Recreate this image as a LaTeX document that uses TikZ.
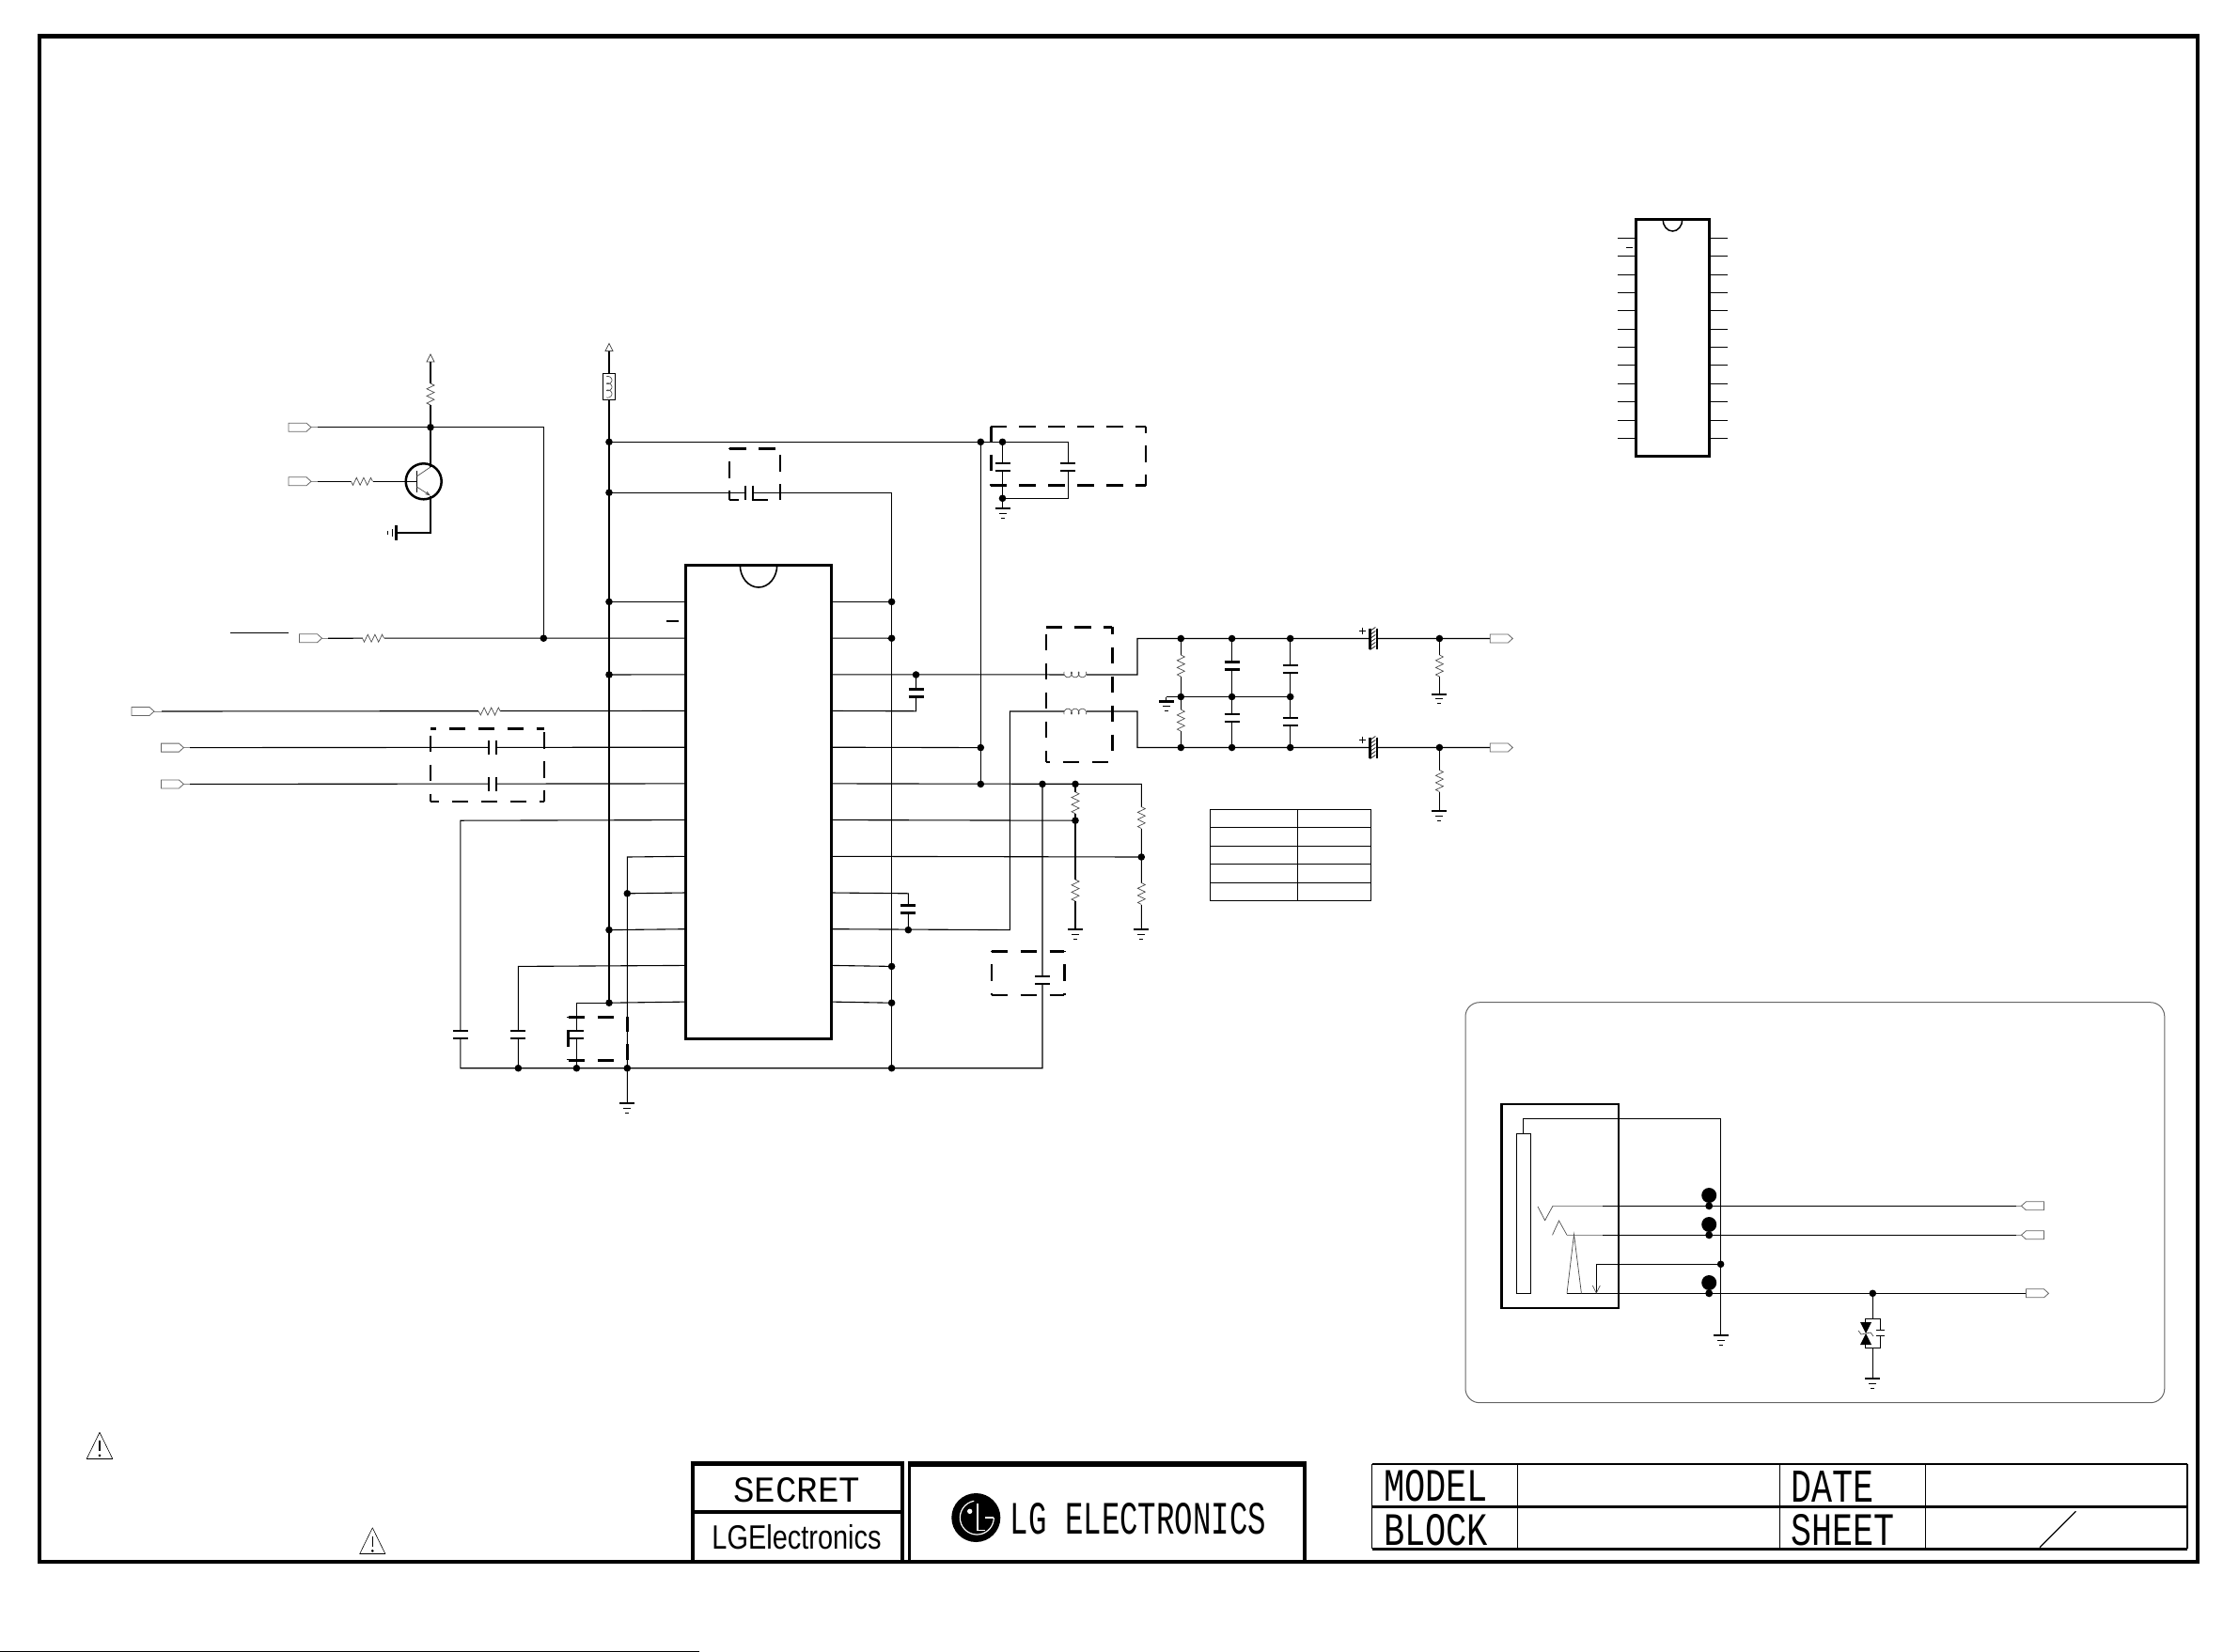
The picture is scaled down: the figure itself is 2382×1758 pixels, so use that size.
\documentclass[tikz,border=0pt]{standalone}
\usepackage{fontspec}
\usepackage{graphicx}
\usetikzlibrary{arrows.meta}
\setmainfont{Liberation Sans}
\newfontfamily\stroke{Liberation Mono}
\tikzset{
  wire/.style={line width=1.1pt,line join=miter},
  part/.style={line width=0.7pt,draw=black!70},
  thinp/.style={line width=0.8pt,draw=black!60},
  stub/.style={line width=0.8pt,draw=black!45},
  plate/.style={line width=2.2pt},
  dashb/.style={line width=2.4pt,dash pattern=on 17.5pt off 13.5pt},
  fit text/.style={inner sep=0pt,outer sep=0pt},
  resv/.pic={\fill[white] (-5,-11.5) rectangle (5,11.5);
    \draw[part] (0,-11.5)--(4,-9.5)--(-4,-5.7)--(4,-1.9)--(-4,1.9)--(4,5.7)--(-4,9.5)--(0,11.5);},
  resh/.pic={\fill[white] (-11.5,-5) rectangle (11.5,5);
    \draw[part] (-11.5,0)--(-9.5,4)--(-5.7,-4)--(-1.9,4)--(1.9,-4)--(5.7,4)--(9.5,-4)--(11.5,0);},
  caph/.pic={\fill[white] (-8,-4) rectangle (8,4);
    \draw[plate] (-8,-4)--(8,-4) (-8,4)--(8,4);},
  capv/.pic={\fill[white] (-4,-7.5) rectangle (4,7.5);
    \draw[plate] (-4,-7.5)--(-4,7.5) (4,-7.5)--(4,7.5);},
  gndsym/.pic={\draw[plate] (-8,0)--(8,0);
    \draw[line width=.9pt] (-4,5)--(4,5) (-2,10)--(2,10);},
  pwr/.pic={\draw[part] (-4,0)--(0,-8)--(4,0)--cycle;},
  portr/.pic={\draw[thinp,fill=white] (0,-4.5)--(19,-4.5)--(24,0)--(19,4.5)--(0,4.5)--cycle;},
  portl/.pic={\draw[thinp,fill=white] (0,-4.5)--(-19,-4.5)--(-24,0)--(-19,4.5)--(0,4.5)--cycle;},
  indh/.pic={\fill[white] (-11.8,-4) rectangle (11.8,4);
    \draw[part] plot[domain=0:1080,samples=70,smooth] ({-11.5+\x/46.96-2*sin(\x)},{-3+2.9*(1-cos(\x))});},
  warn/.pic={\draw[line width=.6pt] (0,0)--(-13.7,28);\draw[line width=.6pt] (0,0)--(13.7,28);
    \draw[line width=1pt] (-13.7,28)--(13.7,28);
    \draw[line width=1.6pt] (0,9)--(0,20);\fill (0,24.5) circle (1.5);},
  polar/.pic={\draw[plate] (-3.8,-11)--(-3.8,11) (3.6,-11)--(3.6,11);
    \fill[white] (-2.6,-11) rectangle (2.4,11);
    \draw[plate] (3.6,-11)--(3.6,11);
    \foreach \h in {-10,-6,-2,2,6,10}{\draw[line width=.7pt] (-3.8,\h+2)--(2,\h-2);}
    \draw[line width=.8pt] (-15.4,-8.5)--(-8.4,-8.5) (-11.9,-12)--(-11.9,-5);},
}
\newcommand\dbox[8]{%
  \draw[dashb,dash phase=#5pt] (#1,#2)--(#3,#2);
  \draw[dashb,dash phase=#6pt] (#1,#2)--(#1,#4);
  \draw[dashb,dash phase=#7pt] (#1,#4)--(#3,#4);
  \draw[dashb,dash phase=#8pt] (#3,#2)--(#3,#4);}
\begin{document}
\begin{tikzpicture}[x=1pt,y=-1pt]
\useasboundingbox (0,0) rectangle (2382,1758);
% frame
\draw[line width=4pt] (41.7,38.3) rectangle (2338,1662);
\draw[line width=5pt] (39.7,38.3)--(2340,38.3);
\draw[line width=1.3pt] (0,1757.3)--(744,1757.3);

% ---- coordinates
\foreach \i in {1,...,12}{\pgfmathsetmacro\yy{640.4+38.7*(\i-1)}
  \coordinate (L\i) at (729.5,\yy); \coordinate (R\i) at (884.5,\yy);}
\coordinate (jT) at (458,454.7);
\coordinate (jH) at (578.3,679.2);
\coordinate (cH) at (578.3,454.7);
\coordinate (tPwr) at (458,385);
\coordinate (rPwr) at (648,373.5);
\coordinate (p1) at (338,454.7);
\coordinate (p2) at (338,512.3);
\coordinate (p3) at (349,679.2);
\coordinate (p4) at (172,757);
\coordinate (p5) at (202,795.6);
\coordinate (p6) at (202,834.4);
\coordinate (qB) at (443.3,512.3);
\coordinate (qC) at (458,497);
\coordinate (qE) at (458,527.5);
\coordinate (qG1) at (458,567);
\coordinate (qG) at (421.7,567);
\coordinate (jA1) at (648,470.3);
\coordinate (jA2) at (648,524.2);
\coordinate (jA3) at (648,640.4);
\coordinate (jA4) at (648,718);
\coordinate (jA5) at (648,989.6);
\coordinate (jA6) at (648,1067.2);
\coordinate (jB1) at (1043.3,470.3);
\coordinate (jB2) at (1066.5,470.3);
\coordinate (cB) at (1136.3,470.3);
\coordinate (cB2) at (1136.3,530.3);
\coordinate (jB3) at (1066.5,530.3);
\coordinate (gB) at (1066.5,541);
\coordinate (jB4) at (1043.3,795.6);
\coordinate (jB5) at (1043.3,834.4);
\coordinate (cD) at (948.6,524.2);
\coordinate (jD1) at (948.6,640.4);
\coordinate (jD2) at (948.6,679.2);
\coordinate (jD3) at (948.6,1028.4);
\coordinate (jD4) at (948.6,1067.2);
\coordinate (jD5) at (948.6,1136.7);
\coordinate (jC1) at (974.5,718);
\coordinate (cC) at (974.5,756.8);
\coordinate (jE1) at (1109,834.4);
\coordinate (jE2) at (1144,834.4);
\coordinate (cE) at (1214.3,834.4);
\coordinate (jE3) at (1144,873.2);
\coordinate (jE4) at (1214.3,912);
\coordinate (gE2) at (1144,989);
\coordinate (gE) at (1214.3,989);
\coordinate (cE1) at (1109,1136.7);
\coordinate (cF) at (966.3,950.8);
\coordinate (jF1) at (966.3,989.6);
\coordinate (cF2) at (1074.3,989.6);
\coordinate (cF3) at (1074.3,757);
\coordinate (cF4) at (1210,757);
\coordinate (cF5) at (1210,795.5);
\coordinate (cC2) at (1210,718);
\coordinate (cC3) at (1210,679.5);
\coordinate (jN1) at (1256.3,679.5);
\coordinate (jN2) at (1310.6,679.5);
\coordinate (jN3) at (1372.7,679.5);
\coordinate (jN4) at (1531.4,679.5);
\coordinate (pO1) at (1585.3,679.5);
\coordinate (jM1) at (1256.3,741.5);
\coordinate (jM2) at (1310.6,741.5);
\coordinate (jM3) at (1372.7,741.5);
\coordinate (cM) at (1240.8,741.5);
\coordinate (gM) at (1240.8,746.5);
\coordinate (jS1) at (1256.3,795.5);
\coordinate (jS2) at (1310.6,795.5);
\coordinate (jS3) at (1372.7,795.5);
\coordinate (jS4) at (1531.4,795.5);
\coordinate (pO2) at (1585.3,795.5);
\coordinate (gN) at (1531.4,738.8);
\coordinate (gS) at (1531.4,863.2);
\coordinate (cL7) at (489.8,873.2);
\coordinate (cBL) at (489.8,1136.7);
\coordinate (cL11) at (551.4,1028.4);
\coordinate (jBt1) at (551.4,1136.7);
\coordinate (cL12) at (613.4,1067.2);
\coordinate (jBt2) at (613.4,1136.7);
\coordinate (cL8) at (667.3,912);
\coordinate (jG1) at (667.3,950.8);
\coordinate (jG2) at (667.3,1136.7);
\coordinate (gG) at (667.3,1174);

% ---- wires
\begin{scope}[wire]
\draw (p1)--(jT)--(cH)--(jH);
\draw (tPwr)--(jT)--(qC);
\draw (qE)--(qG1)--(qG);
\draw (p2)--(qB);
\draw (p3)--(L2);
\draw (p4)--(L4);
\draw (p5)--(L5);
\draw (p6)--(L6);
\draw (rPwr)--(jA6);
\draw (jA3)--(L1); \draw (jA4)--(L3); \draw (jA5)--(L10); \draw (jA6)--(L12);
\draw (jA6)--(cL12)--(jBt2);
\draw (L7)--(cL7)--(cBL)--(cE1)--(jE1);
\draw (L11)--(cL11)--(jBt1);
\draw (L8)--(cL8)--(gG);
\draw (L9)--(jG1);
\draw (jA1)--(cB)--(cB2)--(jB3)--(jB2);
\draw (jB3)--(gB);
\draw (jA2)--(cD)--(jD5);
\draw (jB1)--(jB5);
\draw (R1)--(jD1); \draw (R2)--(jD2); \draw (R11)--(jD3); \draw (R12)--(jD4);
\draw (R3)--(cC2)--(cC3)--(pO1);
\draw (R4)--(cC)--(jC1);
\draw (R5)--(jB4);
\draw (R6)--(cE)--(gE);
\draw (jE2)--(gE2);
\draw (R7)--(jE3);
\draw (R8)--(jE4);
\draw (R9)--(cF)--(jF1);
\draw (R10)--(cF2)--(cF3)--(cF4)--(cF5)--(pO2);
\draw (cM)--(jM3); \draw (cM)--(gM);
\draw (jN1)--(jS1); \draw (jN2)--(jS2); \draw (jN3)--(jS3);
\draw (jN4)--(gN); \draw (jS4)--(gS);
\end{scope}
\draw[stub] (331,454.7)--(p1);
\draw[stub] (331,512.3)--(p2);
\draw[stub] (342,679.2)--(p3);
\draw[stub] (163.5,757)--(p4);
\draw[stub] (195,795.6)--(p5);
\draw[stub] (195,834.4)--(p6);

% ---- ICs
\node[draw,line width=3pt,minimum width=155pt,minimum height=503.7pt,inner sep=0pt,fill=white] (ic1) at (807,853.2) {};
\draw[line width=1.6pt] (787.3,601.3) arc[start angle=180,delta angle=-180,x radius=19.7,y radius=23.7];
\node[draw,line width=2.6pt,minimum width=78pt,minimum height=252pt,inner sep=0pt] (ic2) at (1779.7,359.3) {};
\draw[line width=1.5pt] (1769,233.3) arc[start angle=180,delta angle=-180,x radius=10.4,y radius=12.7];
\foreach \y in {253.3,272.3,292.3,311.3,330.3,350.3,369.3,388.3,408.3,427.3,447.3,466.3}{
  \draw[wire] (1740.7,\y)--(1721,\y);
  \draw[wire] (1818.7,\y)--(1837.7,\y);}
\draw[wire] (1730,263.3)--(1736.7,263.3);
\draw[wire] (709,661)--(722,661);
\draw[wire] (245,673.3)--(306.6,673.3);

% ---- transistor
\node[circle,draw,line width=2.5pt,minimum size=38pt,inner sep=0pt] (Q1) at (450.7,512.3) {};
\draw[line width=1pt] (443.3,501)--(443.3,524);
\draw[part] (443.3,507)--(qC);
\draw[part,-{Stealth[length=6pt,width=4pt,open]}] (443.3,518)--(qE);
% ground of transistor
\draw[line width=2.5pt] (421.7,559)--(421.7,574.5);
\draw[line width=.9pt] (417,563)--(417,571) (412.7,565)--(412.7,569);

% ---- parts
\pic at (tPwr) {pwr}; \pic at (rPwr) {pwr};
\pic at (458,419.5) {resv};
\pic at (385,512.3) {resh};
\pic at (397,679.2) {resh};
\pic at (520.8,757) {resh};
\pic at (307,454.7) {portr};
\pic at (307,512.3) {portr};
\pic at (318.5,679.2) {portr};
\pic at (140,757) {portr};
\pic at (171.4,795.6) {portr};
\pic at (171.4,834.4) {portr};
\pic at (524.3,795.6) {capv};
\pic at (524.3,834.4) {capv};
\pic at (796.7,524.2) {capv};
\pic at (489.8,1100.8) {caph};
\pic at (551.4,1100.8) {caph};
\pic at (613.4,1100.8) {caph};
\pic at (966.3,967.5) {caph};
\pic at (974.5,737.5) {caph};
\pic at (1066.5,497) {caph};
\pic at (1136.3,497) {caph};
\pic at (1109,1043.3) {caph};
\pic at (gG) {gndsym};
\pic at (gB) {gndsym};
\pic at (gE2) {gndsym};
\pic at (gE) {gndsym};
\pic at (gM) {gndsym};
\pic at (gN) {gndsym};
\pic at (gS) {gndsym};
\pic at (1143.8,718) {indh};
\pic[yscale=-1] at (1143.8,757) {indh};
\node[draw,line width=1pt,fill=white,minimum width=12.7pt,minimum height=27.7pt,inner sep=0pt] (fb) at (648.3,411.8) {};
\pic[rotate=90,scale=.95] at (648.3,411.8) {indh};
\pic at (1256.3,708.5) {resv};
\pic at (1256.3,766.6) {resv};
\pic at (1310.6,708.4) {caph};
\pic at (1310.6,764.2) {caph};
\pic at (1372.7,712.3) {caph};
\pic at (1372.7,768) {caph};
\pic at (1531.4,708.5) {resv};
\pic at (1531.4,831) {resv};
\pic at (1144,854.3) {resv};
\pic at (1144,947.5) {resv};
\pic at (1214.3,870.1) {resv};
\pic at (1214.3,951) {resv};
\pic at (1461.3,679.5) {polar};
\pic at (1461.3,795.5) {polar};
\pic at (pO1) {portr};
\pic at (pO2) {portr};

% ---- dashed boxes
\dbox{458}{775.6}{578.7}{853}{11.5}{24}{8.5}{27.6}
\dbox{1054.3}{453.7}{1218.8}{516.5}{1}{1}{1}{10.5}
\dbox{1113}{667.3}{1183.3}{810.8}{1}{23.4}{13.5}{9.8}
\dbox{604.6}{1082.3}{667.3}{1128.3}{0}{17}{0}{2}
\dbox{1054.7}{1012.3}{1132.3}{1059}{0}{17}{0}{17}
\dbox{776}{477.3}{830}{531.7}{0}{17}{7.5}{24.3}

% ---- table
\draw[wire] (1287.3,861.3) rectangle (1458.8,958.5);
\draw[wire] (1380.4,861.3)--(1380.4,958.5);
\foreach \y in {880.4,900.3,919.5,939.4}{\draw[wire] (1287.3,\y)--(1458.8,\y);}

% ---- lower-right panel
\draw[line width=1pt,draw=black!60,rounded corners=15pt] (1559,1066.7) rectangle (2302.8,1492.7);
\draw[line width=2.6pt] (1597.3,1175) rectangle (1722,1392);
\coordinate (jkTop) at (1620.7,1206.3);
\coordinate (jkC1) at (1620.7,1190.3);
\coordinate (jkC2) at (1830.6,1190.3);
\coordinate (jkG) at (1830.6,1421);
\coordinate (jkJ) at (1830.6,1345.3);
\coordinate (jkA) at (1698.3,1345.3);
\coordinate (jkA2) at (1698.3,1376.3);
\coordinate (jkL1) at (1705,1283.3);
\coordinate (jkP1) at (2144.6,1283.3);
\coordinate (jkL2) at (1705,1314.3);
\coordinate (jkP2) at (2144.6,1314.3);
\coordinate (jkL4) at (1667,1376.3);
\coordinate (jkP4) at (2155.5,1376.3);
\coordinate (jkZ) at (1992.3,1376.3);
\coordinate (jkZt) at (1992.3,1403.3);
\coordinate (jkZb) at (1992.3,1434.7);
\coordinate (jkZg) at (1992.3,1467.3);
\begin{scope}[wire]
\draw (jkTop)--(jkC1)--(jkC2)--(jkG);
\draw (jkL1)--(jkP1);
\draw (jkL2)--(jkP2);
\draw (jkJ)--(jkA)--(jkA2);
\draw (jkL4)--(jkP4);
\draw (jkZ)--(jkZt);
\draw (jkZb)--(jkZg);
\draw (1984.4,1403.3) rectangle (2000.8,1434.7);
\end{scope}
\fill[white] (1998,1415.5) rectangle (2003,1421.5);
\draw[line width=.8pt] (1613.7,1206.3) rectangle (1628.7,1376.3);
\draw[stub] (1652,1283.3)--(jkL1);
\draw[stub] (1667,1314.3)--(jkL2);
\draw[stub] (2144.6,1283.3)--(2151,1283.3);
\draw[stub] (2144.6,1314.3)--(2151,1314.3);
\draw[part] (1636,1284)--(1643.6,1298.7)--(1652,1283.3);
\draw[part] (1651.5,1314.3)--(1658.5,1299)--(1667,1314.3);
\draw[part] (1667,1376.3)--(1674.5,1313.5)--(1682.4,1376.3);
\draw[part] (1694.3,1368)--(1698.3,1376)--(1702.3,1368);
\pic at (2174.4,1283.3) {portl};
\pic at (2174.4,1314.3) {portl};
\pic at (2155.5,1376.3) {portr};
\pic at (jkG) {gndsym};
\pic at (jkZg) {gndsym};
\foreach \yy in {1272,1303,1365}{\fill (1818.2,\yy) circle (8);}
\foreach \yy in {1283.3,1314.3,1376.3}{\fill (1818.2,\yy) circle (4);}
\fill (jkJ) circle (3.8);
\fill (jkZ) circle (3.8);
% zener pair
\fill[white] (1980,1405) rectangle (1990,1433);
\draw[wire] (1984.4,1403.3)--(1984.4,1407) (1984.4,1431)--(1984.4,1434.7);
\fill (1979,1407)--(1991,1407)--(1985,1419)--cycle;
\fill (1979,1431)--(1991,1431)--(1985,1419)--cycle;
\draw[part] (1977,1416)--(1980,1420)--(1990,1418)--(1993,1422);
\draw[wire] (1995.5,1415.5)--(2004.5,1415.5) (1995.5,1421.5)--(2004.5,1421.5);

% ---- junction dots
\foreach \n in {jT,jH,jA1,jA2,jA3,jA4,jA5,jA6,jB1,jB2,jB3,jB4,jB5,jD1,jD2,jD3,jD4,jD5,jC1,jE1,jE2,jE3,jE4,jF1,jN1,jN2,jN3,jN4,jM1,jM2,jM3,jS1,jS2,jS3,jS4,jBt1,jBt2,jG1,jG2}{\fill (\n) circle (3.8);}

% ---- warning marks
\pic at (106,1524.3) {warn};
\pic at (396.3,1625.8) {warn};

% ---- title block
\draw[line width=4pt] (736.6,1557.3)--(736.6,1662) (960,1557.3)--(960,1662);
\draw[line width=5pt] (734.6,1557.3)--(962,1557.3);
\draw[line width=4pt] (736.6,1608.7)--(960,1608.7);
\node[fit text] (secret) at (848,1586) {\resizebox{135pt}{26pt}{\stroke SECRET}};
\node[fit text] (lgsmall) at (847.5,1636) {\resizebox{180pt}{26pt}{LGElectronics}};
\draw[line width=3.6pt] (967.3,1556)--(967.3,1662) (1388,1556)--(1388,1662);
\draw[line width=6pt] (965.5,1558)--(1389.8,1558);
\fill (1038.3,1615) circle (26);
\begin{scope}[white,line width=1.2pt]
\draw (1039.3,1615) ++(-3.1,-17.7) arc[start angle=-100,delta angle=-260,radius=18];
\draw (1057.3,1615)--(1048.3,1615);
\draw (1040,1600)--(1040,1628.3)--(1048.3,1628.3);
\fill (1031.7,1608.3) circle (2.7);
\end{scope}
\node[fit text] (lgbig) at (1211,1616.5) {\resizebox{272pt}{33pt}{\stroke LG ELECTRONICS}};
\draw[line width=2.2pt] (1459.5,1558.3)--(2327,1558.3);
\draw[line width=3.6pt] (1459.5,1603.3)--(2327,1603.3);
\draw[line width=3pt] (1459.5,1648.3)--(2327,1648.3);
\draw[line width=1.3pt] (1459.5,1558.3)--(1459.5,1648.3) (1614.6,1558.3)--(1614.6,1648.3) (1893.8,1558.3)--(1893.8,1648.3) (2048.8,1558.3)--(2048.8,1648.3);
\draw[line width=2pt] (2327,1558.3)--(2327,1648.3);
\node[fit text] (tmodel) at (1527.5,1581.5) {\resizebox{111pt}{33pt}{\stroke MODEL}};
\node[fit text] (tdate) at (1949.5,1581.5) {\resizebox{88pt}{33pt}{\stroke DATE}};
\node[fit text] (tblock) at (1527.5,1628.3) {\resizebox{111pt}{33pt}{\stroke BLOCK}};
\node[fit text] (tsheet) at (1960.8,1628.3) {\resizebox{110pt}{33pt}{\stroke SHEET}};
\draw[line width=1.3pt] (2170,1646.7)--(2208.4,1608.3);
\end{tikzpicture}
\end{document}
